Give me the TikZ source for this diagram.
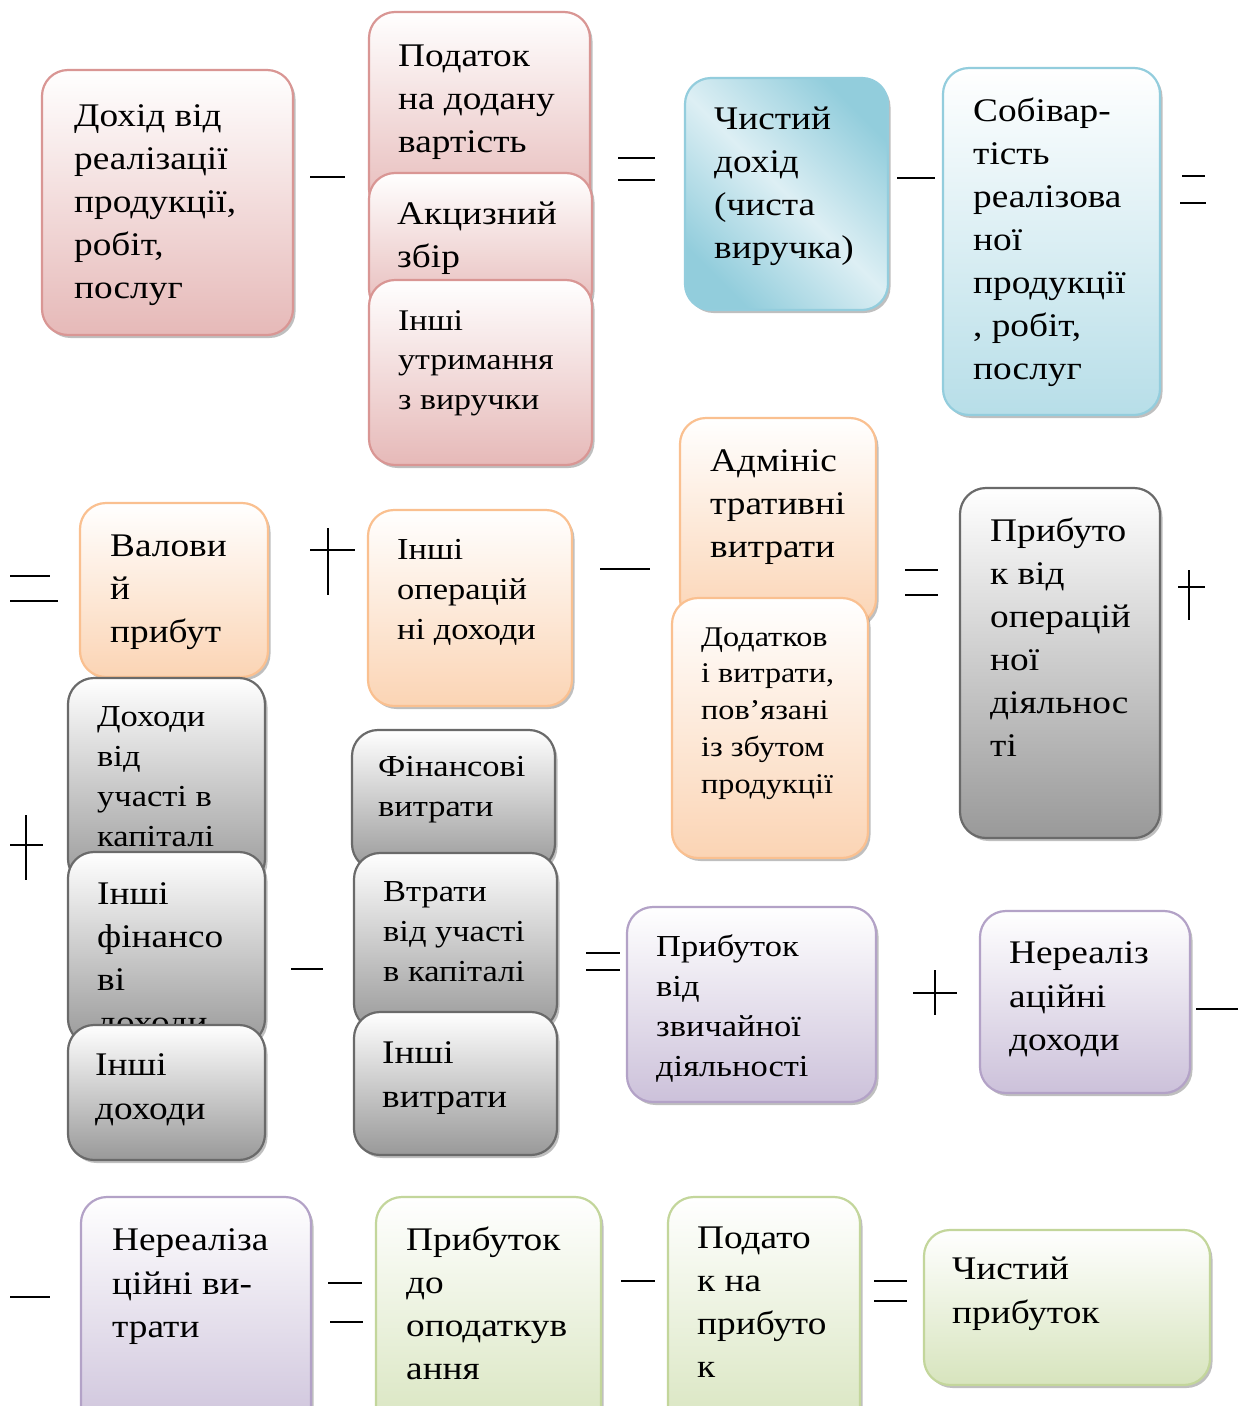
\documentclass[tikz,border=0pt]{standalone}
\usepackage{fontspec}
\setmainfont{Liberation Serif}[FakeStretch=1.13]
\usetikzlibrary{shadows}
\definecolor{pinkB}{HTML}{D99694}
\definecolor{pinkF}{HTML}{E6B9B8}
\definecolor{blueB}{HTML}{93CDDD}
\definecolor{blueF}{HTML}{B7DEE8}
\definecolor{blueD}{HTML}{92CDDC}
\definecolor{blueL}{HTML}{DDEFF4}
\definecolor{orangeB}{HTML}{FAC090}
\definecolor{orangeF}{HTML}{FBD4B4}
\definecolor{greyB}{HTML}{6A6A6A}
\definecolor{greyF}{HTML}{999999}
\definecolor{purpleB}{HTML}{B3A2C7}
\definecolor{purpleF}{HTML}{CCC1DA}
\definecolor{greenB}{HTML}{C3D69B}
\definecolor{greenF}{HTML}{D7E4BD}
\tikzset{
  bx/.style 2 args={draw=#1, line width=2.2pt, rounded corners=26pt, inner sep=0pt,
    top color=white, bottom color=#2,
    drop shadow={shadow xshift=2.5pt, shadow yshift=-3pt, opacity=.45, fill=black!55}},
  pinkbox/.style={bx={pinkB}{pinkF}},
  bluebox/.style={bx={blueB}{blueF}},
  orangebox/.style={bx={orangeB}{orangeF}},
  greybox/.style={bx={greyB}{greyF}},
  purplebox/.style={bx={purpleB}{purpleF}},
  greenbox/.style={bx={greenB}{greenF}},
  diagbox/.style={draw=blueB, line width=2.2pt, rounded corners=26pt, inner sep=0pt,
    top color=blueD, bottom color=blueD, middle color=blueL, shading angle=-45,
    drop shadow={shadow xshift=2.5pt, shadow yshift=-3pt, opacity=.45, fill=black!55}},
  txt/.style={anchor=north west, inner sep=0pt, align=left, text=black},
  tA/.style={txt, font=\fontsize{33}{43}\selectfont, yshift=30.1pt},
  tB/.style={txt, font=\fontsize{30.5}{40}\selectfont, yshift=28pt},
  tC/.style={txt, font=\fontsize{28.5}{36.7}\selectfont, yshift=25.69pt},
  tD/.style={txt, font=\fontsize{30}{39.5}\selectfont, yshift=27.65pt},
  tE/.style={txt, font=\fontsize{33}{43.8}\selectfont, yshift=30.66pt},
  op/.style={line width=1.6pt, black},
}
\newcommand\mybox[6]{\node[#2, minimum width={#5-#3}, minimum height={#6-#4}] (#1) at ({(#3+#5)/2},{(#4+#6)/2}) {};}
\newcommand\mytext[5]{\node[#2] (#1) at (#3,#4) {\strut #5};}
\begin{document}
\begin{tikzpicture}[x=1pt,y=-1pt]
\useasboundingbox (0,0) rectangle (1238,1406);
\fill[white] (0,0) rectangle (1238,1406);
\clip (0,0) rectangle (1238,1406);
% Row 1
\mybox{A}{pinkbox}{42}{70}{293}{335}
\mytext{At}{tA}{74}{126}{Дохід від\\реалізації\\продукції,\\робіт,\\послуг}
\mybox{B1}{pinkbox}{369}{12}{590}{215}
\mytext{B1t}{tA}{398}{66}{Податок\\на додану\\вартість}
\mybox{B2}{pinkbox}{369}{173}{592}{315}
\mytext{B2t}{tA}{397}{224}{Акцизний\\збір}
\mybox{B3}{pinkbox}{369}{280}{592}{465}
\mytext{B3t}{tD}{398}{330}{Інші\\утримання\\з виручки}
\mybox{C}{diagbox}{685}{78}{888}{310}
\mytext{Ct}{tA}{714}{129}{Чистий\\дохід\\(чиста\\виручка)}
\mybox{D}{bluebox}{943}{68}{1160}{415}
\mytext{Dt}{tA}{973}{121}{Собівар-\\тість\\реалізова\\ної\\продукції\\, робіт,\\послуг}
% Row 2
\mybox{E}{orangebox}{80}{503}{268}{677}
\mytext{Et}{tA}{110}{556}{Валови\\й\\прибут}
\mybox{F}{orangebox}{368}{510}{572}{706}
\mytext{Ft}{tB}{397}{559}{Інші\\операцій\\ні доходи}
\mybox{G1}{orangebox}{680}{418}{876}{625}
\mytext{G1t}{tA}{710}{471}{Адмініс\\тративні\\витрати}
\mybox{G2}{orangebox}{672}{598}{868}{858}
\mytext{G2t}{tC}{701}{646}{Додатков\\і витрати,\\пов’язані\\із збутом\\продукції}
\mybox{H}{greybox}{960}{488}{1160}{838}
\mytext{Ht}{tA}{990}{541}{Прибуто\\к від\\операцій\\ної\\діяльнос\\ті}
% Row 3
\mybox{I1}{greybox}{68}{678}{265}{885}
\mytext{I1t}{tB}{97}{726}{Доходи\\від\\участі в\\капіталі}
\mybox{I2}{greybox}{68}{852}{265}{1045}
\mytext{I2t}{tA}{97}{904}{Інші\\фінансо\\ві\\доходи}
\mybox{I3}{greybox}{68}{1025}{265}{1160}
\mytext{I3t}{tE}{95}{1075}{Інші\\доходи}
\mybox{J1}{greybox}{352}{730}{555}{870}
\mytext{J1t}{tB}{378}{776}{Фінансові\\витрати}
\mybox{J2}{greybox}{354}{853}{557}{1030}
\mytext{J2t}{tB}{383}{901}{Втрати\\від участі\\в капіталі}
\mybox{J3}{greybox}{354}{1012}{557}{1155}
\mytext{J3t}{tE}{382}{1063}{Інші\\витрати}
\mybox{K}{purplebox}{627}{907}{876}{1102}
\mytext{Kt}{tB}{656}{956}{Прибуток\\від\\звичайної\\діяльності}
\mybox{L}{purplebox}{980}{911}{1190}{1093}
\mytext{Lt}{tE}{1009}{963}{Нереаліз\\аційні\\доходи}
% Row 4
\mybox{M}{purplebox}{81}{1197}{311}{1440}
\mytext{Mt}{tE}{112}{1250}{Нереаліза\\ційні ви-\\трати}
\mybox{N}{greenbox}{376}{1197}{601}{1440}
\mytext{Nt}{tA}{406}{1250}{Прибуток\\до\\оподаткув\\ання}
\mybox{O}{greenbox}{668}{1197}{860}{1440}
\mytext{Ot}{tA}{697}{1248}{Подато\\к на\\прибуто\\к}
\mybox{P}{greenbox}{924}{1230}{1210}{1385}
\mytext{Pt}{tE}{952}{1279}{Чистий\\прибуток}
% operators
\draw[op] (310,177) -- (345,177);
\draw[op] (618,158) -- (655,158) (618,180) -- (655,180);
\draw[op] (897,178) -- (935,178);
\draw[op] (1182,176) -- (1205,176) (1180,203) -- (1206,203);
\draw[op] (10,576) -- (50,576) (10,601) -- (58,601);
\draw[op] (310,550) -- (355,550) (328,528) -- (328,595);
\draw[op] (600,569) -- (650,569);
\draw[op] (905,570) -- (938,570) (905,595) -- (938,595);
\draw[op] (1178,587) -- (1205,587) (1189,570) -- (1189,620);
\draw[op] (10,845) -- (43,845) (26,815) -- (26,880);
\draw[op] (291,969) -- (323,969);
\draw[op] (586,953) -- (620,953) (586,970) -- (620,970);
\draw[op] (913,993) -- (957,993) (935,970) -- (935,1015);
\draw[op] (1196,1009) -- (1238,1009);
\draw[op] (10,1297) -- (50,1297);
\draw[op] (328,1283) -- (362,1283) (330,1322) -- (363,1322);
\draw[op] (621,1281) -- (655,1281);
\draw[op] (874,1281) -- (907,1281) (874,1301) -- (907,1301);
\end{tikzpicture}
\end{document}
